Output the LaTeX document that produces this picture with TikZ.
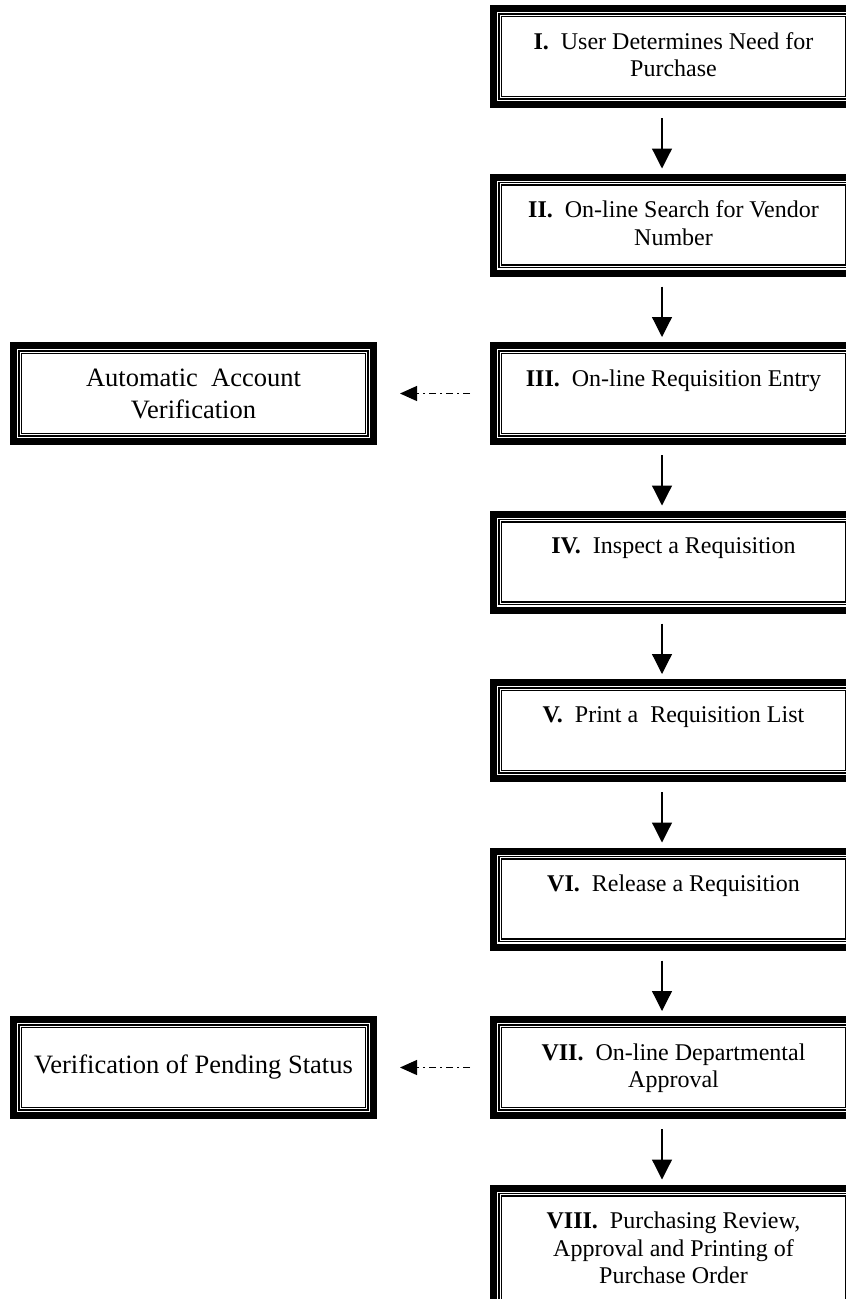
\documentclass[tikz,border=0pt]{standalone}
\usepackage{fontspec}
\setmainfont{Liberation Serif}
\usetikzlibrary{positioning}
\usetikzlibrary{arrows.meta}
\tikzset{
  framed/.style={draw, line width=7pt, minimum width=360pt, inner sep=0pt,
    path picture={
      \draw[line width=1.7pt] ([shift={(5.5pt,-5.5pt)}]path picture bounding box.north west)
        rectangle ([shift={(-5.5pt,5.5pt)}]path picture bounding box.south east);
      \draw[line width=1.2pt] ([shift={(8pt,-8pt)}]path picture bounding box.north west)
        rectangle ([shift={(-8pt,8pt)}]path picture bounding box.south east);
    }},
  stepbox/.style={framed, minimum height=96pt, font=\fontsize{24}{27.5}\selectfont,
    execute at begin node={\begin{minipage}[t][#1][t]{340pt}\centering},
    execute at end node={\end{minipage}}},
  stepbox/.default=48pt,
  sidebox/.style={framed, minimum height=96pt, align=center,
    font=\fontsize{26.5}{32}\selectfont}
}
\tikzstyle{flow} = [draw, line width=1.2pt, -{Triangle[length=20pt,width=20pt]},
  shorten <=10pt, shorten >=5pt]
\tikzstyle{check} = [draw, line width=1.2pt, dash pattern=on 7pt off 4pt on 2pt off 4pt,
  -{Triangle[length=17pt,width=15pt]}, shorten <=20pt, shorten >=23pt]
\newcommand{\stepno}[1]{\textbf{#1.}\ \ }

\begin{document}
\begin{tikzpicture}[x=1pt, y=1pt, node distance=65.5pt]
  \useasboundingbox (0,0) rectangle (846,-1299);

  \node[stepbox, anchor=north] (s1) at (673.5,-5) {\stepno{I}User Determines Need for\\Purchase};
  \node[stepbox] (s2) [below=of s1] {\stepno{II}On-line Search for Vendor\\Number};
  \node[stepbox] (s3) [below=of s2] {\stepno{III}On-line Requisition Entry};
  \node[stepbox] (s4) [below=of s3] {\stepno{IV}Inspect a Requisition};
  \node[stepbox] (s5) [below=of s4] {\stepno{V}Print a\ \ Requisition List};
  \node[stepbox] (s6) [below=of s5] {\stepno{VI}Release a Requisition};
  \node[stepbox] (s7) [below=of s6] {\stepno{VII}On-line Departmental\\Approval};
  \node[stepbox=82pt, minimum height=130pt] (s8) [below=of s7]
    {\stepno{VIII}Purchasing Review,\\Approval and Printing of\\Purchase Order};

  \node[sidebox] (acct) [left=113pt of s3] {Automatic\ \ Account\\Verification};
  \node[sidebox] (pend) [left=113pt of s7] {Verification of Pending Status};

  % main line
  \path ([xshift=-11.5pt]s1.south) edge[flow] ([xshift=-11.5pt]s2.north)
        ([xshift=-11.5pt]s2.south) edge[flow] ([xshift=-11.5pt]s3.north)
        ([xshift=-11.5pt]s3.south) edge[flow] ([xshift=-11.5pt]s4.north)
        ([xshift=-11.5pt]s4.south) edge[flow] ([xshift=-11.5pt]s5.north)
        ([xshift=-11.5pt]s5.south) edge[flow] ([xshift=-11.5pt]s6.north)
        ([xshift=-11.5pt]s6.south) edge[flow] ([xshift=-11.5pt]s7.north)
        ([xshift=-11.5pt]s7.south) edge[flow] ([xshift=-11.5pt]s8.north);

  % side checks
  \path (s3) edge[check] (acct)
        (s7) edge[check] (pend);
\end{tikzpicture}
\end{document}
